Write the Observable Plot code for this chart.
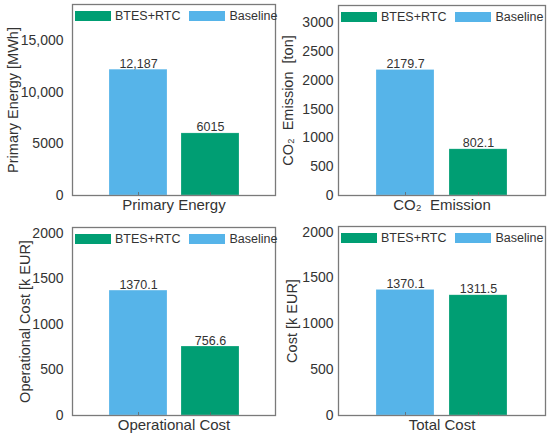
<!DOCTYPE html>
<html>
<head>
<meta charset="utf-8">
<script src="https://cdn.jsdelivr.net/npm/d3@7"></script>
<script src="https://cdn.jsdelivr.net/npm/@observablehq/plot@0.6"></script>
<style>
  html, body { margin: 0; padding: 0; background: #fff; }
  #wrap { position: relative; width: 550px; height: 439px; font-family: "Liberation Sans", Arial, sans-serif; }
  .panel { position: absolute; }
  .legend { position: absolute; display: flex; align-items: center; font-size: 12.5px; color: #333; white-space: nowrap; }
  .sw { display: inline-block; width: 36px; height: 10px; margin-right: 4px; }
</style>
</head>
<body>
<div id="wrap"></div>
<script>
const series = ["Baseline", "BTES+RTC"];
const seriesColors = ["#56B4E9", "#009E73"];
const legendOrder = ["BTES+RTC", "Baseline"];
const categories = ["Primary Energy", "CO\u2082  Emission", "Operational Cost", "Total Cost"];
const yLabels = ["Primary Energy [MWh]", "CO\u2082  Emission  [ton]", "Operational Cost [k EUR]", "Cost [k EUR]"];
const baselineValues = [12187, 2179.7, 1370.1, 1370.1];
const btesValues = [6015, 802.1, 756.6, 1311.5];
const yTicks = [
  [0, 5000, 10000, 15000],
  [0, 500, 1000, 1500, 2000, 2500, 3000],
  [0, 500, 1000, 1500, 2000],
  [0, 500, 1000, 1500, 2000]
];
const yMax = [18500, 3300, 2062, 2062];

const tickFmt = d => d >= 10000 ? d3.format(",")(d) : String(d);
const valueFmts = [
  d => d >= 10000 ? d3.format(",")(d) : d3.format("d")(d),
  d3.format(".1f"),
  d3.format(".1f"),
  d3.format(".1f")
];

// layout per panel: [left, top, width, height, mL, mR, mT, mB, labelDist, tickPad]
const layout = [
  [0, 0, 275, 220, 72, 0, 4, 25, 59, 9],
  [275, 0, 275, 220, 63, 5, 5, 25, 50, 5],
  [0, 220, 275, 219, 72, 0, 7, 24, 47, 9],
  [275, 220, 275, 219, 63, 5, 6, 24, 46, 5]
];

const wrap = document.getElementById("wrap");
const ink = "#333";

layout.forEach((L, i) => {
  const [left, top, width, height, mL, mR, mT, mB, labelDist, tickPad] = L;
  const data = series.map((s, j) => ({series: s, value: [baselineValues, btesValues][j][i]}));
  const chart = Plot.plot({
    width, height,
    marginLeft: mL, marginRight: mR, marginTop: mT, marginBottom: mB,
    style: {fontFamily: "'Liberation Sans', Arial, sans-serif", color: ink, background: "transparent"},
    x: {type: "band", domain: series, paddingInner: 0.2, paddingOuter: 0.5, axis: null},
    y: {domain: [0, yMax[i]], axis: null},
    color: {domain: series, range: seriesColors},
    marks: [
      Plot.barY(data, {x: "series", y: "value", fill: "series", stroke: "#ffffff", strokeOpacity: 0.35, strokeWidth: 0.6}),
      Plot.axisX({anchor: "bottom", tickSize: -3, tickFormat: () => "", label: null, stroke: "#666", strokeWidth: 0.8}),
      Plot.axisY({ticks: yTicks[i], tickSize: 0, tickPadding: tickPad, tickFormat: tickFmt, fontSize: 14, fill: ink, label: null}),
      Plot.text(data, {x: "series", y: "value", text: d => valueFmts[i](d.value), lineAnchor: "bottom", dy: -2, fontSize: 12.5, fill: ink}),
      Plot.text([categories[i]], {frameAnchor: "bottom", textAnchor: "middle", lineAnchor: "middle", dy: 10, fontSize: 15, fill: ink}),
      Plot.text([yLabels[i]], {frameAnchor: "left", textAnchor: "middle", rotate: -90, dx: -labelDist, lineAnchor: "middle", fontSize: 14.5, fill: ink}),
      Plot.frame({stroke: "#7a7a7a", strokeWidth: 1.3})
    ]
  });
  chart.classList.add("panel");
  chart.style.left = left + "px";
  chart.style.top = top + "px";
  chart.style.overflow = "visible";
  wrap.appendChild(chart);

  const lg = document.createElement("div");
  lg.className = "legend";
  lg.style.left = (left + mL + 3) + "px";
  lg.style.top = (top + mT + 5) + "px";
  legendOrder.forEach((s, k) => {
    const sw = document.createElement("span");
    sw.className = "sw";
    sw.style.background = seriesColors[series.indexOf(s)];
    const t = document.createElement("span");
    t.textContent = s;
    t.style.marginRight = k === 0 ? "9px" : "0";
    lg.appendChild(sw);
    lg.appendChild(t);
  });
  wrap.appendChild(lg);
});
</script>
</body>
</html>
